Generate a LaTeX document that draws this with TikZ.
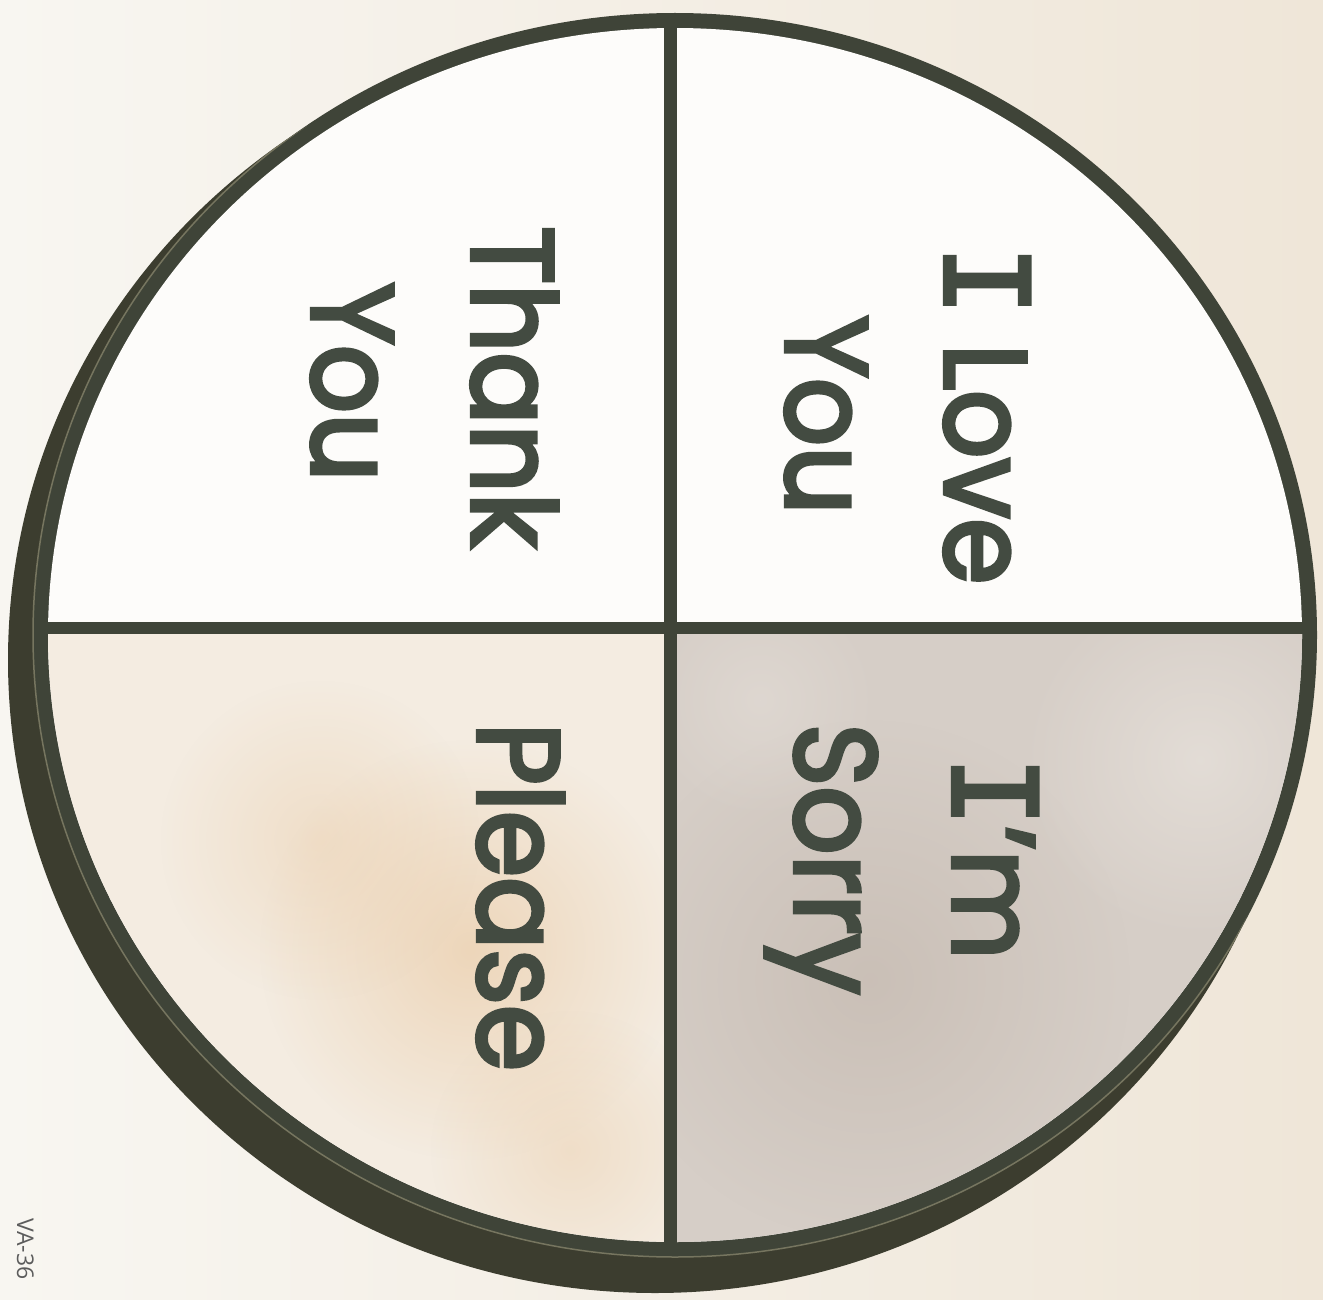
\documentclass[tikz,border=0pt]{standalone}
\usepackage{fontspec}
\usetikzlibrary{fadings}
\setmainfont{Poppins}[FakeBold=3.5, FakeStretch=0.92]
\newfontfamily\tagfont{Open Sans}
\newfontfamily\serifI{DejaVu Sans Mono}[FakeBold=3.5]
\definecolor{ink}{HTML}{434B41}
\definecolor{rim}{HTML}{3F4438}
\definecolor{shadowc}{HTML}{3C3D2F}
\definecolor{paperL}{HTML}{F8F6F1}
\definecolor{paperR}{HTML}{EFE6D8}
\definecolor{beige}{HTML}{F4ECE1}
\definecolor{orangeb}{HTML}{E8C49A}
\definecolor{greyq}{HTML}{D6CEC7}
\definecolor{greyd}{HTML}{C2B6AC}
\definecolor{greyl}{HTML}{E6E0DA}
\definecolor{facew}{HTML}{FDFCFA}
\definecolor{seam}{HTML}{76755F}
\definecolor{tagc}{HTML}{5C5C5C}
\tikzfading[name=blobfade, inner color=transparent!0, outer color=transparent!100]
\newcommand{\sI}{{\serifI I}}
\begin{document}
\begin{tikzpicture}[x=1pt,y=-1pt,
  word/.style={text=ink, font=\fontsize{116}{140}\selectfont, rotate=-90, anchor=base, inner sep=0pt},
  divider/.style={draw=rim, line width=13pt},
  blob/.style={path fading=blobfade, fill opacity=#1},
  blob/.default=0.7]
\useasboundingbox (0,0) rectangle (1323,1300);
\shade[left color=paperL, right color=paperR] (0,0) rectangle (1323,1300);
% shadow crescent
\fill[shadowc] (655,660) ellipse [x radius=647, y radius=633];
% face rim
\fill[rim] (675,635) ellipse [x radius=642, y radius=622];
\begin{scope}
  \clip (655,660) ellipse [x radius=647, y radius=633];
  \draw[seam, line width=1.5pt] (675,635) ellipse [x radius=642, y radius=622];
\end{scope}
% quadrants
\begin{scope}
  \clip (675,635) ellipse [x radius=627, y radius=607];
  \fill[facew] (0,0) rectangle (1323,1300);
  \begin{scope}
    \clip (0,628) rectangle (670,1300);
    \fill[beige] (0,628) rectangle (670,1300);
    \fill[orangeb, blob=0.55] (470,950) circle [radius=210];
    \fill[orangeb, blob=0.35] (320,840) circle [radius=160];
    \fill[orangeb, blob=0.35] (570,1150) circle [radius=140];
  \end{scope}
  \begin{scope}
    \clip (670,628) rectangle (1323,1300);
    \fill[greyq] (670,628) rectangle (1323,1300);
    \fill[greyd, blob=0.6] (870,980) circle [radius=260];
    \fill[greyl, blob=0.8] (1200,760) circle [radius=180];
    \fill[greyl, blob=0.5] (760,700) circle [radius=120];
  \end{scope}
\end{scope}
% dividers
\begin{scope}
  \clip (675,635) ellipse [x radius=640, y radius=620];
  \draw[divider] (670,0) -- (670,1300);
  \draw[divider, line width=12pt] (0,628) -- (1323,628);
\end{scope}
% words
\node[word] (love1) at (945,415) {\sI\ Love};
\node[word] (love2) at (786,415) {You};
\node[word] (thank1) at (472,387) {Thank};
\node[word] (thank2) at (312,382) {You};
\node[word] (sorry1) at (953,858) {\sI’m};
\node[word] (sorry2) at (795,859) {Sorry};
\node[word] (please) at (478,897) {Please};
\node[rotate=-90, anchor=base, inner sep=0pt, text=tagc, font=\tagfont\fontsize{23}{26}\selectfont] (tag) at (17,1249) {VA-36};
\end{tikzpicture}
\end{document}
